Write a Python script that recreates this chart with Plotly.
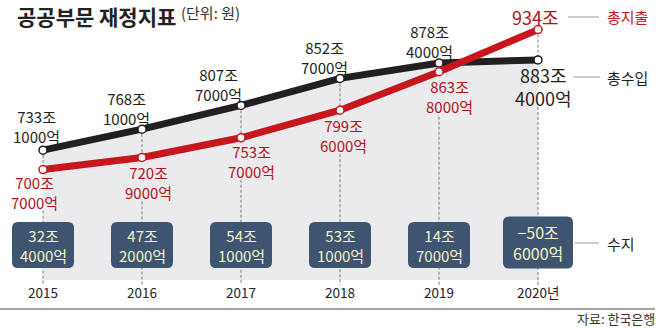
import plotly.graph_objects as go

# ---------------- data ----------------
years = [2015, 2016, 2017, 2018, 2019, 2020]
year_labels = ["2015", "2016", "2017", "2018", "2019", "2020년"]
revenue = [733.1, 768.1, 807.7, 852.7, 878.4, 883.4]        # 총수입 (조 원)
expenditure = [700.7, 720.9, 753.7, 799.6, 863.8, 934.0]    # 총지출 (조 원)
balance = [32.4, 47.2, 54.1, 53.1, 14.7, -50.6]             # 수지 (조 원)

series_names = ["총지출", "총수입", "수지"]
title_text = "공공부문 재정지표"
unit_text = "(단위: 원)"
source_text = "자료: 한국은행"

# ---------------- layout constants ----------------
W, H = 658, 329
FONT = "Noto Sans CJK KR"
BLACK = "#231f20"
RED = "#c8161e"
RED_TXT = "#b3131b"
GRAY_FILL = "#ebebed"
BOX = "#3e5470"
BOX_TXT = "#f4f2c6"

PX_PER_YEAR = 99.0
X_FIRST_PX = 43.0
x_range = [years[0] - X_FIRST_PX / PX_PER_YEAR, years[0] + (W - X_FIRST_PX) / PX_PER_YEAR]

PX_PER_UNIT = 0.6
Y_TOP = 590.0 / PX_PER_UNIT
y_range = [Y_TOP - H / PX_PER_UNIT, Y_TOP]


def px_to_val(py):
    return Y_TOP - py / PX_PER_UNIT


def val_to_px(v):
    return (Y_TOP - v) * PX_PER_UNIT


def paper_y(py):
    return 1 - py / H


def paper_x(px):
    return px / W


def split_won(v):
    jo = int(v)
    eok = round(abs(v) * 10000) % 10000
    jo_txt = f"{jo}조" if v >= 0 else f"−{abs(jo)}조"
    return jo_txt, (f"{eok}억" if eok else "")


FILL_BOTTOM_PX = 280
DASH_BOTTOM_PX = 285

# label placement: pixel offsets of label-block centre relative to its point,
# and offset of the block's bottom (where the dashed guide resumes)
rev_dx = [-7, -16, -23, -16, -10, 5]
rev_dy = [-24, -21, -21, -21, -21, 27]
rev_bottom = [None, None, None, None, None, 47]
rev_size = [15, 15, 15, 15, 15, 18]
exp_dx = [-9, 6, 10, 3, 10, -3]
exp_dy = [23, 25, 24, 25, 25, -13]
exp_bottom = [41, 44, 42, 44, 45, None]
exp_size = [15, 15, 15, 15, 15, 18]

fig = go.Figure()

# gray area under the revenue line
base_val = px_to_val(FILL_BOTTOM_PX)
fig.add_trace(go.Scatter(x=years, y=[base_val] * len(years), mode="lines",
                         line=dict(width=0), hoverinfo="skip", showlegend=False))
fig.add_trace(go.Scatter(x=years, y=revenue, mode="lines", fill="tonexty",
                         fillcolor=GRAY_FILL, line=dict(width=0),
                         hoverinfo="skip", showlegend=False))

# dashed guides
dx_, dy_ = [], []
for i, yr in enumerate(years):
    top = max(revenue[i], expenditure[i])
    low = min(revenue[i], expenditure[i])
    dx_ += [yr, yr, None]
    dy_ += [top, low, None]
    below = exp_bottom[i] if expenditure[i] <= revenue[i] else rev_bottom[i]
    resume_px = val_to_px(low) + below
    dx_ += [yr, yr, None]
    dy_ += [px_to_val(resume_px), px_to_val(DASH_BOTTOM_PX), None]
fig.add_trace(go.Scatter(x=dx_, y=dy_, mode="lines",
                         line=dict(color="#7a7a7a", width=1, dash="3px,2px"),
                         hoverinfo="skip", showlegend=False))

# lines
fig.add_trace(go.Scatter(x=years, y=revenue, mode="lines+markers", name=series_names[1],
                         line=dict(color=BLACK, width=7),
                         marker=dict(size=8, color="white", line=dict(color=BLACK, width=1.5)),
                         showlegend=False))
fig.add_trace(go.Scatter(x=years, y=expenditure, mode="lines+markers", name=series_names[0],
                         line=dict(color=RED, width=7),
                         marker=dict(size=8, color="white", line=dict(color=RED, width=1.5)),
                         showlegend=False))

ann = []


def add_label(x, y, text, dx, dy, size, color):
    ann.append(dict(x=x, y=y, xref="x", yref="y", text=text, showarrow=False,
                    xanchor="center", yanchor="middle", xshift=dx, yshift=-dy,
                    borderpad=0, font=dict(family=FONT, size=size, color=color)))


for i, yr in enumerate(years):
    t1, t2 = split_won(revenue[i])
    add_label(yr, revenue[i], f"{t1}<br>{t2}" if t2 else t1, rev_dx[i], rev_dy[i], rev_size[i], BLACK)
    t1, t2 = split_won(expenditure[i])
    add_label(yr, expenditure[i], f"{t1}<br>{t2}" if t2 else t1, exp_dx[i], exp_dy[i], exp_size[i], RED_TXT)

# balance boxes
shapes = []
for i, yr in enumerate(years):
    last = i == len(years) - 1
    w, h, r = (70, 52, 6) if last else (62, 46, 6)
    cy = 242.5 if last else 245
    hw, hh = w / 2, h / 2
    path = (f"M {-hw + r},{-hh} L {hw - r},{-hh} Q {hw},{-hh} {hw},{-hh + r} "
            f"L {hw},{hh - r} Q {hw},{hh} {hw - r},{hh} L {-hw + r},{hh} "
            f"Q {-hw},{hh} {-hw},{hh - r} L {-hw},{-hh + r} Q {-hw},{-hh} {-hw + r},{-hh} Z")
    shapes.append(dict(type="path", xref="x", yref="paper", xsizemode="pixel", ysizemode="pixel",
                       xanchor=yr, yanchor=paper_y(cy), path=path,
                       fillcolor=BOX, line=dict(width=0), layer="above"))
    t1, t2 = split_won(balance[i])
    ann.append(dict(x=yr, y=paper_y(cy), xref="x", yref="paper", text=f"{t1}<br>{t2}",
                    showarrow=False, xanchor="center", yanchor="middle", borderpad=0,
                    font=dict(family=FONT, size=16 if last else 15, color=BOX_TXT)))

# year labels
for yr, lab in zip(years, year_labels):
    ann.append(dict(x=yr, y=paper_y(292), xref="x", yref="paper", text=lab, showarrow=False,
                    xanchor="center", yanchor="middle",
                    font=dict(family=FONT, size=13.5, color="#222")))

# side labels with leader lines
side = [(series_names[0], 17, RED, 568, 599), (series_names[1], 77, BLACK, 573, 600),
        (series_names[2], 243, BLACK, 575, 599)]
for name, py, col, x0, x1 in side:
    shapes.append(dict(type="line", xref="paper", yref="paper", x0=paper_x(x0), x1=paper_x(x1),
                       y0=paper_y(py), y1=paper_y(py), line=dict(color="#9a9a9a", width=1)))
    ann.append(dict(x=paper_x(605), y=paper_y(py), xref="paper", yref="paper", text=name,
                    showarrow=False, xanchor="left", yanchor="middle",
                    font=dict(family=FONT, size=15, color=col)))

# title, unit, source, bottom rule
ann.append(dict(x=paper_x(16), y=1, xref="paper", yref="paper", text=f"<b>{title_text}</b>",
                showarrow=False, xanchor="left", yanchor="top", borderpad=0,
                font=dict(family=FONT, size=21, color="#222")))
ann.append(dict(x=paper_x(180), y=paper_y(13), xref="paper", yref="paper", text=unit_text,
                showarrow=False, xanchor="left", yanchor="middle", borderpad=0,
                font=dict(family=FONT, size=15, color="#333")))
ann.append(dict(x=paper_x(656), y=paper_y(318), xref="paper", yref="paper", text=source_text,
                showarrow=False, xanchor="right", yanchor="middle", borderpad=0,
                font=dict(family=FONT, size=13, color="#333")))
shapes.append(dict(type="line", xref="paper", yref="paper", x0=0, x1=paper_x(655),
                   y0=paper_y(309), y1=paper_y(309), line=dict(color="#8a8a8a", width=1.5)))

fig.update_layout(
    width=W, height=H, margin=dict(l=0, r=0, t=0, b=0),
    paper_bgcolor="white", plot_bgcolor="white",
    xaxis=dict(range=x_range, visible=False, fixedrange=True),
    yaxis=dict(range=y_range, visible=False, fixedrange=True),
    annotations=ann, shapes=shapes, showlegend=False,
)

fig.write_html("out.html")
